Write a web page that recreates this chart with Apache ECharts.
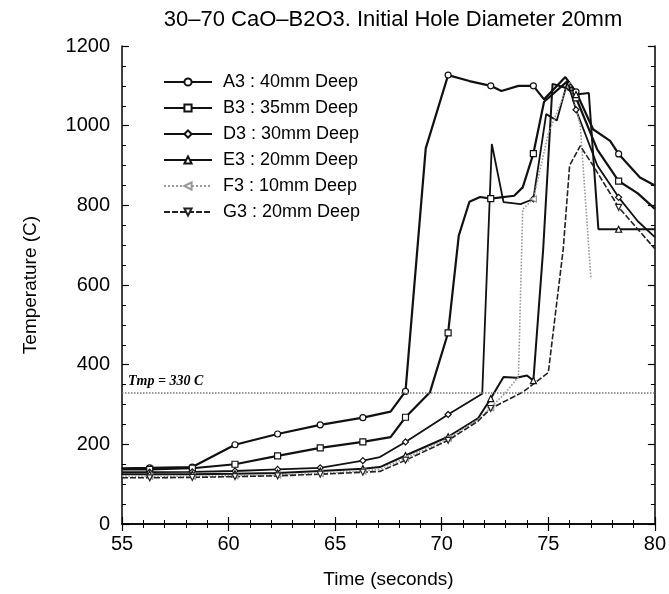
<!DOCTYPE html>
<html>
<head>
<meta charset="utf-8">
<script src="https://cdn.jsdelivr.net/npm/echarts@6/dist/echarts.min.js"></script>
<style>
    html, body { margin: 0; background: #fff; }
    #chart { width: 669px; height: 594px; }
</style>
</head>
<body>
<div id="chart"></div>
<script>
// times (s) and temperatures (C)
const a3Time = [55, 56.3, 58.3, 60.3, 62.3, 64.3, 66.3, 67.6, 68.3, 69.25, 70.3, 71.3, 72.3, 72.8, 73.6, 74.3, 74.8, 75.8, 76.3, 77.1, 77.9, 78.3, 79.3, 80]
const a3Temp = [140, 141, 143, 199, 226, 249, 267, 282, 333, 943, 1127, 1112, 1100, 1087, 1100, 1100, 1066, 1122, 1085, 991, 962, 929, 870, 850]

const b3Time = [55, 56.3, 58.3, 60.3, 62.3, 64.3, 66.3, 67.6, 68.3, 69.45, 70.3, 70.8, 71.3, 71.8, 72.3, 73.4, 73.8, 74.3, 74.8, 75.9, 76.3, 77.3, 78.3, 79.2, 80]
const b3Temp = [137, 137, 140, 150, 171, 191, 206, 218, 268, 331, 480, 724, 809, 821, 817, 824, 845, 930, 1060, 1112, 1070, 940, 861, 830, 791]

const d3Time = [55, 56.3, 58.3, 60.3, 62.3, 64.3, 66.3, 67.1, 68.3, 70.3, 71.9, 72.35, 72.9, 73.7, 74.3, 74.9, 75.4, 75.9, 76.3, 77.3, 78.3, 79.2, 80]
const d3Temp = [130, 130, 131, 133, 137, 141, 159, 168, 206, 275, 327, 954, 808, 803, 816, 1029, 1013, 1110, 1040, 900, 820, 760, 720]

const e3Time = [55, 56.3, 58.3, 60.3, 62.3, 64.3, 66.3, 67.1, 68.3, 70.3, 71.7, 72.3, 72.9, 73.5, 74.0, 74.3, 74.76, 75.2, 75.8, 76.3, 76.9, 77.35, 78.3, 80]
const e3Temp = [125, 125, 125, 126, 128, 133, 139, 143, 172, 219, 265, 315, 369, 367, 373, 360, 690, 1105, 1095, 1078, 1082, 740, 740, 740]

const f3Time = [55, 56.3, 58.3, 60.3, 62.3, 64.3, 66.3, 67.1, 68.3, 70.3, 71.7, 72.3, 73.0, 73.6, 73.8, 74.3, 75.0, 76.0, 76.5, 77.0]
const f3Temp = [120, 120, 120, 121, 123, 127, 133, 138, 165, 215, 262, 292, 330, 370, 790, 816, 980, 1110, 1000, 615]

const g3Time = [55, 56.3, 58.3, 60.3, 62.3, 64.3, 66.3, 67.1, 68.3, 70.3, 71.7, 72.3, 73.8, 75.0, 75.7, 76.0, 76.5, 77.1, 78.3, 80]
const g3Temp = [116, 116, 117, 119, 121, 125, 130, 132, 160, 210, 258, 290, 331, 380, 690, 900, 949, 900, 795, 691]

// samples that carry a marker
const markTimes = [56.3, 58.3, 60.3, 62.3, 64.3, 66.3, 68.3, 70.3, 72.3, 74.3, 76.3, 78.3]

const xTicks = [55, 60, 65, 70, 75, 80]
const yTicks = [0, 200, 400, 600, 800, 1000, 1200]
const thresholdTemp = 330

const font = 'Liberation Sans, Arial, sans-serif'

const toPoints = (times, temps) => times.map((t, i) => {
    const marked = markTimes.some(m => Math.abs(m - t) < 0.01)
    return marked ? { value: [t, temps[i]] } : { value: [t, temps[i]], symbol: 'none' }
})

const makeSeries = (name, times, temps, symbol, rotate, line) => ({
    name,
    type: 'line',
    data: toPoints(times, temps),
    symbol,
    symbolRotate: rotate,
    symbolSize: 6,
    showAllSymbol: true,
    itemStyle: { color: '#fff', borderColor: line.color, borderWidth: 1.2 },
    lineStyle: line,
    emphasis: { disabled: true },
})

const chart = echarts.init(document.getElementById('chart'))

const baseAxis = {
    axisLine: { show: true, lineStyle: { color: '#000', width: 1.5 } },
    axisTick: { show: true, inside: true, length: 7, lineStyle: { color: '#000', width: 1.2 } },
    minorTick: { show: true, length: 4, lineStyle: { color: '#000' } },
    splitLine: { show: false },
}

const series = [
    makeSeries('A3 : 40mm Deep', a3Time, a3Temp, 'circle', 0, { color: '#111', width: 2.2 }),
    makeSeries('B3 : 35mm Deep', b3Time, b3Temp, 'rect', 0, { color: '#111', width: 2.2 }),
    makeSeries('D3 : 30mm Deep', d3Time, d3Temp, 'diamond', 0, { color: '#111', width: 1.8 }),
    makeSeries('E3 : 20mm Deep', e3Time, e3Temp, 'triangle', 0, { color: '#111', width: 2 }),
    makeSeries('F3 : 10mm Deep', f3Time, f3Temp, 'triangle', 90, { color: '#999', width: 1.6, type: 'dotted' }),
    makeSeries('G3 : 20mm Deep', g3Time, g3Temp, 'triangle', 180, { color: '#222', width: 1.6, type: [6, 2] }),
]

series[0].markLine = {
    silent: true,
    symbol: 'none',
    lineStyle: { color: '#777', type: 'dotted', width: 1.5 },
    label: {
        formatter: 'Tmp = 330 C',
        position: 'insideStartTop',
        distance: [6, 4],
        color: '#000',
        fontFamily: 'Liberation Serif, serif',
        fontStyle: 'italic',
        fontWeight: 'bold',
        fontSize: 14,
    },
    data: [{ yAxis: thresholdTemp }],
}

chart.setOption({
    animation: false,
    title: {
        text: '30–70 CaO–B2O3. Initial Hole Diameter 20mm',
        left: 388,
        textAlign: 'center',
        top: 4,
        textStyle: { fontFamily: font, fontSize: 22, fontWeight: 'normal', color: '#000' },
    },
    legend: {
        orient: 'vertical',
        left: 158,
        top: 68,
        itemWidth: 48,
        itemHeight: 9,
        itemGap: 8,
        textStyle: { fontFamily: font, fontSize: 18, lineHeight: 18, color: '#000', padding: [0, 0, 0, 6] },
        data: series.map(s => s.name),
    },
    grid: { left: 122, right: 14, top: 46, bottom: 70 },
    xAxis: [
        {
            ...baseAxis,
            type: 'value',
            min: xTicks[0],
            max: xTicks[xTicks.length - 1],
            interval: 5,
            minorTick: { ...baseAxis.minorTick, splitNumber: 5 },
            axisLabel: { color: '#000', fontFamily: font, fontSize: 20, margin: 10 },
            name: 'Time (seconds)',
            nameLocation: 'middle',
            nameGap: 46,
            nameTextStyle: { color: '#000', fontFamily: font, fontSize: 19 },
        },
        {
            ...baseAxis,
            type: 'value',
            position: 'top',
            min: xTicks[0],
            max: xTicks[xTicks.length - 1],
            interval: 5,
            minorTick: { ...baseAxis.minorTick, splitNumber: 5 },
            axisLabel: { show: false },
        },
    ],
    yAxis: [
        {
            ...baseAxis,
            type: 'value',
            min: yTicks[0],
            max: yTicks[yTicks.length - 1],
            interval: 200,
            minorTick: { ...baseAxis.minorTick, splitNumber: 4 },
            axisLabel: { color: '#000', fontFamily: font, fontSize: 20, margin: 12, formatter: v => String(v) },
            name: 'Temperature (C)',
            nameLocation: 'middle',
            nameGap: 82,
            nameTextStyle: { color: '#000', fontFamily: font, fontSize: 19 },
        },
        {
            ...baseAxis,
            type: 'value',
            position: 'right',
            min: yTicks[0],
            max: yTicks[yTicks.length - 1],
            interval: 200,
            minorTick: { ...baseAxis.minorTick, splitNumber: 4 },
            axisLabel: { show: false },
        },
    ],
    series,
})
</script>
</body>
</html>
